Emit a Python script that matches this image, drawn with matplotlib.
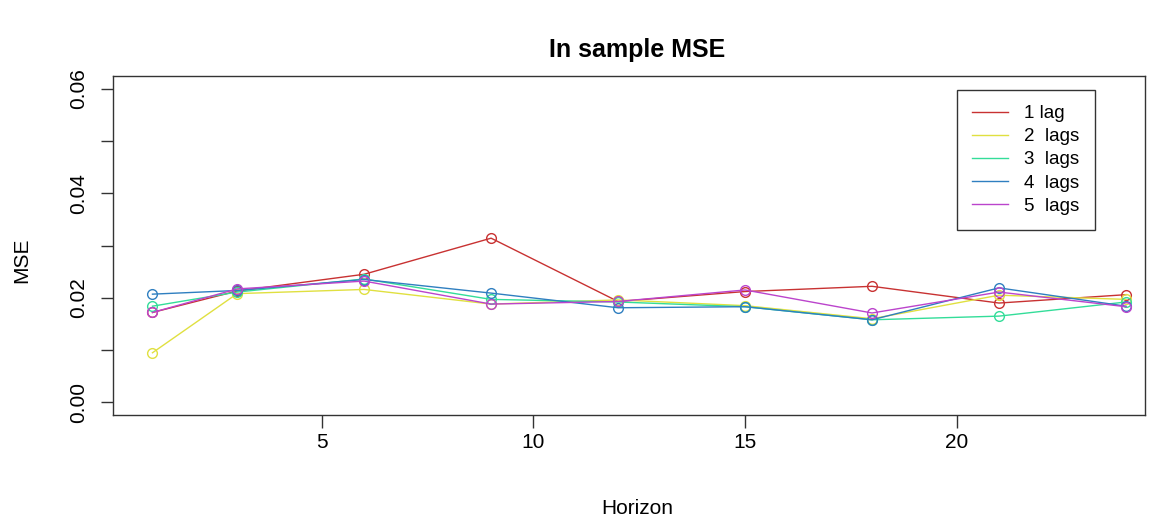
import matplotlib
matplotlib.use("Agg")
import matplotlib.pyplot as plt
from matplotlib.lines import Line2D

plt.rcParams['font.family'] = ['Liberation Sans', 'DejaVu Sans']

horizon = [1, 3, 6, 9, 12, 15, 18, 21, 24]
lag1 = [0.0172, 0.0213, 0.0245, 0.0314, 0.0193, 0.0212, 0.0222, 0.0190, 0.0206]
lag2 = [0.0095, 0.0208, 0.0216, 0.0188, 0.0196, 0.0185, 0.0160, 0.0205, 0.0197]
lag3 = [0.0184, 0.0211, 0.0236, 0.0197, 0.0192, 0.0183, 0.0158, 0.0165, 0.0192]
lag4 = [0.0207, 0.0214, 0.0235, 0.0209, 0.0181, 0.0183, 0.0158, 0.0219, 0.0184]
lag5 = [0.0172, 0.0217, 0.0232, 0.0188, 0.0193, 0.0215, 0.0171, 0.0211, 0.0183]
labels = ["1 lag", "2  lags", "3  lags", "4  lags", "5  lags"]
colors = ["#c83232", "#e0e040", "#33dd99", "#2f7fc0", "#bb44cc"]
series = [lag1, lag2, lag3, lag4, lag5]

W, H = 1158, 521
fig = plt.figure(figsize=(W / 100, H / 100), dpi=100)
left, right, top, bottom = 112.7, 1145, 76, 415
ax = fig.add_axes([left / W, 1 - bottom / H, (right - left) / W, (bottom - top) / H])

for vals, c in zip(series, colors):
    ax.plot(horizon, vals, color=c, lw=1.0, marker='o', mfc='none', mec=c,
            ms=7, mew=1.0)

ax.set_xlim(0.06, 24.45)
ax.set_ylim(-0.0024, 0.0624)
ax.set_xticks([5, 10, 15, 20])
ax.set_xticklabels(["5", "10", "15", "20"], fontsize=15)
ax.set_yticks([0, 0.01, 0.02, 0.03, 0.04, 0.05, 0.06])
ax.set_yticklabels(["0.00", "", "0.02", "", "0.04", "", "0.06"], fontsize=15,
                   rotation=90, va='center')
ax.tick_params(axis='both', length=9, width=1.0, color='#333333')
ax.tick_params(axis='x', pad=4)
ax.tick_params(axis='y', pad=9)
for s in ax.spines.values():
    s.set_linewidth(1.0)
    s.set_color('#333333')

fig.text(637 / W, 1 - 50 / H, "In sample MSE", ha='center', va='center',
         fontsize=18, fontweight='bold')
fig.text(637 / W, 1 - 508 / H, "Horizon", ha='center', va='center', fontsize=15)
fig.text(22 / W, 1 - 260 / H, "MSE", ha='center', va='center', fontsize=15,
         rotation=90)

handles = [Line2D([0], [0], color=c, lw=1.0) for c in colors]
leg = fig.legend(handles, labels, loc='upper left',
                 bbox_to_anchor=(957 / W, 1 - 90 / H), fontsize=13.5,
                 frameon=True, fancybox=False, edgecolor='black',
                 handlelength=1.9, handletextpad=0.9, labelspacing=0.32,
                 borderpad=0.8, borderaxespad=0)
leg.get_frame().set_linewidth(1.0)

fig.savefig("out.png", dpi=100)
